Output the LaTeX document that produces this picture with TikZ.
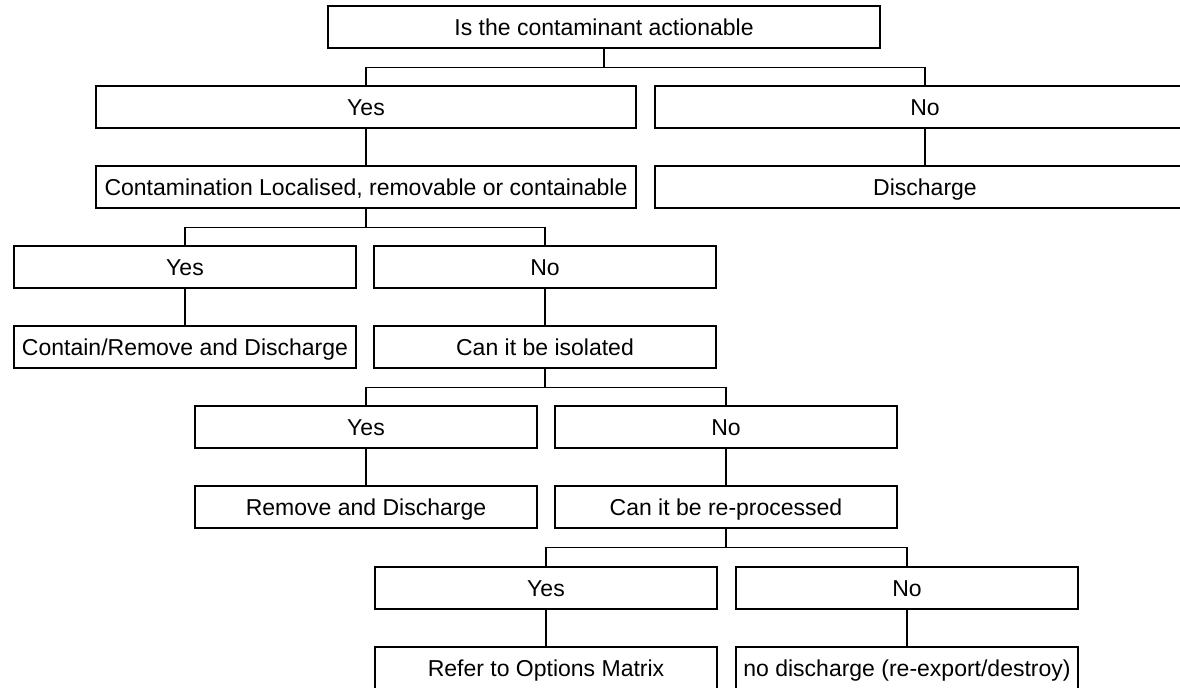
\documentclass[tikz,border=0pt]{standalone}
\usepackage{fontspec}
\setmainfont{Liberation Sans}

\begin{document}
\begin{tikzpicture}[x=0.5pt, y=-0.5pt, line width=0.65pt,
  box/.style={draw=black, inner sep=0pt, minimum height=21pt, text height=8.3pt, text depth=0pt, font=\fontsize{11.5}{14}\selectfont},
  topbox/.style={box, minimum width=276pt},
  widebox/.style={box, minimum width=270pt},
  smallbox/.style={box, minimum width=171pt}]

\useasboundingbox (0,0) rectangle (1180,688);
\clip (0,0) rectangle (1180,688);

% First question
\node[topbox] (Q1) at (604,27) {Is the contaminant actionable};
\node[widebox] (Y1) at (366,107) {Yes};
\node[widebox] (N1) at (925,107) {No};
\node[widebox] (Q2) at (366,187) {Contamination Localised, removable or containable};
\node[widebox] (D1) at (925,187) {Discharge};

% Second question
\node[smallbox] (Y2) at (185,267) {Yes};
\node[smallbox] (N2) at (545,267) {No};
\node[smallbox] (D2) at (185,347) {Contain/Remove and Discharge};
\node[smallbox] (Q3) at (545,347) {Can it be isolated};

% Third question
\node[smallbox] (Y3) at (366,427) {Yes};
\node[smallbox] (N3) at (726,427) {No};
\node[smallbox] (D3) at (366,507) {Remove and Discharge};
\node[smallbox] (Q4) at (726,507) {Can it be re-processed};

% Fourth question
\node[smallbox] (Y4) at (546,588) {Yes};
\node[smallbox] (N4) at (907,588) {No};
\node[smallbox] (D4) at (546,668) {Refer to Options Matrix};
\node[smallbox] (D5) at (907,668) {no discharge (re-export/destroy)};

% Question to answer connections
\foreach \q/\y/\n in {Q1/Y1/N1, Q2/Y2/N2, Q3/Y3/N3, Q4/Y4/N4}{
\draw (\q.south) -- ++(0,19) coordinate (B\q);
\draw (\y.north) |- (B\q) -| (\n.north);
}

% Answer to outcome connections
\foreach \a/\b in {Y1/Q2, N1/D1, Y2/D2, N2/Q3, Y3/D3, N3/Q4, Y4/D4, N4/D5}
\draw (\a) -- (\b);

\end{tikzpicture}
\end{document}
